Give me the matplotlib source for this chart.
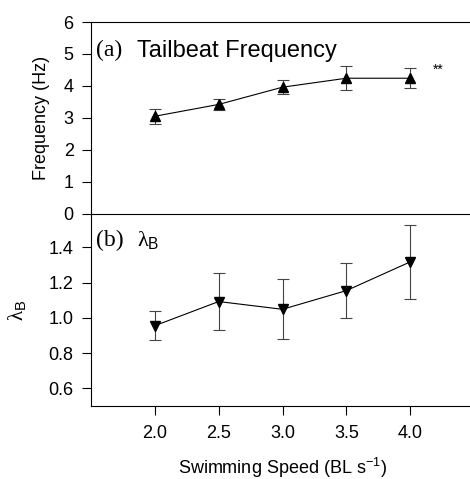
import numpy as np
import matplotlib
matplotlib.use("Agg")
import matplotlib.pyplot as plt

plt.rcParams['font.family'] = ['Liberation Sans', 'DejaVu Sans']
plt.rcParams['mathtext.fontset'] = 'custom'
plt.rcParams['mathtext.rm'] = 'Liberation Serif'
plt.rcParams['mathtext.sf'] = 'Liberation Sans'

speed = [2.0, 2.5, 3.0, 3.5, 4.0]
freq = [3.05, 3.42, 3.96, 4.24, 4.24]
freq_err = [0.24, 0.16, 0.21, 0.38, 0.32]
lam = [0.956, 1.093, 1.049, 1.155, 1.318]
lam_err = [0.083, 0.16, 0.17, 0.155, 0.21]
speed_ticks = [2.0, 2.5, 3.0, 3.5, 4.0]
freq_ticks = [0, 1, 2, 3, 4, 5, 6]
lam_ticks = [0.6, 0.8, 1.0, 1.2, 1.4]

lam_sym = r'$\mathrm{\lambda}_{\mathsf{B}}$'

W, H = 470, 479
fig = plt.figure(figsize=(W / 100, H / 100), dpi=100)
ax2 = fig.add_axes([91 / W, 1 - 406 / H, 383 / W, 192 / H])
ax1 = fig.add_axes([91 / W, 1 - 213.7 / H, 383 / W, 191.7 / H])
ax1.patch.set_visible(False)

for ax in (ax1, ax2):
    ax.set_xlim(1.5, 4.5)
    ax.spines['right'].set_visible(False)
    for s in ax.spines.values():
        s.set_linewidth(0.8)
    ax.tick_params(direction='out', length=6.5, width=0.8, labelsize=13, pad=6)

# (a) tailbeat frequency
ax1.errorbar(speed, freq, yerr=freq_err, color='black', lw=0.8, marker='^', ms=7,
             ecolor='#444444', elinewidth=0.8, capsize=4, capthick=0.8)
ax1.set_ylim(0, 6)
ax1.set_yticks(freq_ticks)
ax1.set_xticks([])
ax1.set_ylabel('Frequency (Hz)', fontsize=13, labelpad=10)
ax1.text(0.012, 0.85, '(a)', transform=ax1.transAxes, fontsize=17,
         family='Liberation Serif', va='center')
ax1.text(0.12, 0.85, 'Tailbeat Frequency', transform=ax1.transAxes, fontsize=17,
         va='center')
ax1.text(4.22, 4.5, '**', fontsize=10, ha='center', va='center')

# (b) body wavelength
ax2.errorbar(speed, lam, yerr=lam_err, color='black', lw=0.8, marker='v', ms=7,
             ecolor='#444444', elinewidth=0.8, capsize=4, capthick=0.8)
ax2.set_ylim(0.5, 1.59)
ax2.set_yticks(lam_ticks)
ax2.set_yticklabels(['%.1f' % v for v in lam_ticks])
ax2.set_xticks(speed_ticks)
ax2.set_xticklabels(['%.1f' % v for v in speed_ticks])
ax2.spines['top'].set_visible(False)
ax2.tick_params(axis='x', pad=7)
ax2.set_ylabel(lam_sym, fontsize=15, labelpad=14)
ax2.text(0.012, 0.86, '(b)', transform=ax2.transAxes, fontsize=17,
         family='Liberation Serif', va='center')
ax2.text(0.12, 0.86, lam_sym, transform=ax2.transAxes, fontsize=16,
         va='center')
ax2.set_xlabel(r'Swimming Speed (BL s$^{\mathsf{-1}}$)', fontsize=13, labelpad=10)

fig.savefig('out.png', dpi=100)
